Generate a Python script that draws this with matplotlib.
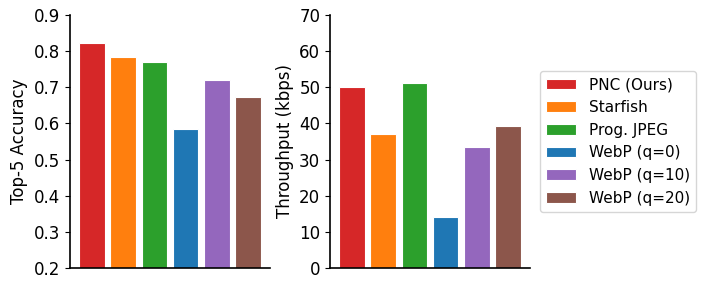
import matplotlib
matplotlib.use('Agg')
import matplotlib.pyplot as plt
import numpy as np

methods = ['PNC (Ours)', 'Starfish', 'Prog. JPEG', 'WebP (q=0)', 'WebP (q=10)', 'WebP (q=20)']
colours = ['tab:red', 'tab:orange', 'tab:green', 'tab:blue', 'tab:purple', 'tab:brown']
accuracy = [0.822, 0.785, 0.770, 0.584, 0.721, 0.673]
throughput = [50.0, 37.0, 51.1, 14.1, 33.4, 39.4]

plt.rcParams.update({'font.size': 12})
fig = plt.figure(figsize=(7.06, 2.83), dpi=100)
ax1 = fig.add_axes([70/706, 15/283, 200/706, 253/283])
ax2 = fig.add_axes([330/706, 15/283, 200/706, 253/283])

x = np.arange(len(methods))
palkit = ax1.bar(x, accuracy, width=0.82, color=colours, edgecolor='white', linewidth=0.8)
ax1.set_ylim(0.2, 0.9)
ax1.set_ylabel('Top-5 Accuracy')

ax2.bar(x, throughput, width=0.82, color=colours, edgecolor='white', linewidth=0.8)
ax2.set_ylim(0, 70)
ax2.set_ylabel('Throughput (kbps)')

for ax in (ax1, ax2):
    ax.set_xticks([])
    ax.spines['top'].set_visible(False)
    ax.spines['right'].set_visible(False)
    ax.spines['left'].set_linewidth(1.2)
    ax.spines['bottom'].set_linewidth(1.2)

ax2.legend(palkit, methods, loc='center left', bbox_to_anchor=(1.01, 0.5), fontsize=11)

fig.savefig('out.png', dpi=100)
